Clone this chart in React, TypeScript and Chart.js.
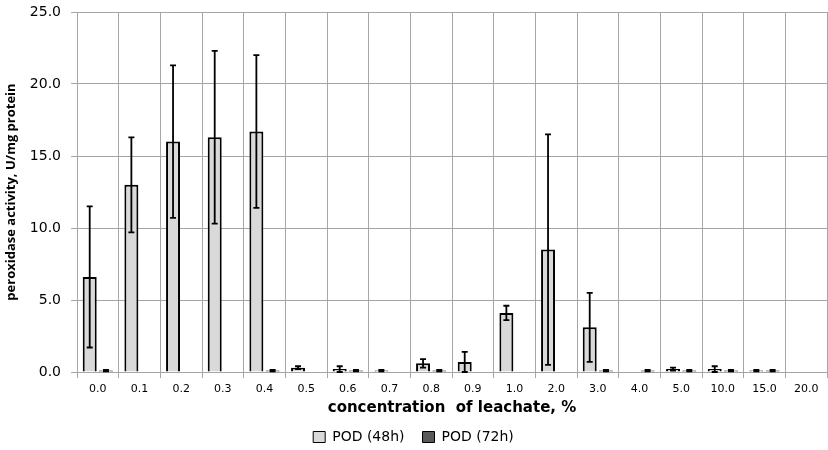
import React, { useEffect, useRef } from "react";
import { Chart, registerables } from "chart.js";

Chart.register(...registerables);

const categories = ["0.0", "0.1", "0.2", "0.3", "0.4", "0.5", "0.6", "0.7", "0.8", "0.9", "1.0", "2.0", "3.0", "4.0", "5.0", "10.0", "15.0", "20.0"];
const pod48 = [6.6, 13.0, 16.0, 16.3, 16.7, 0.3, 0.2, 0.1, 0.6, 0.7, 4.1, 8.5, 3.1, null, 0.2, 0.2, 0.1, null];
const err48 = [4.9, 3.3, 5.3, 6.0, 5.3, 0.1, 0.2, 0.05, 0.3, 0.7, 0.5, 8.0, 2.4, null, 0.1, 0.2, 0.05, null];
const pod72 = [0.1, null, null, null, 0.1, null, 0.1, null, 0.1, null, null, null, 0.1, 0.1, 0.1, 0.1, 0.1, null];
const err72 = [0.05, null, null, null, 0.05, null, 0.05, null, 0.05, null, null, null, 0.05, 0.05, 0.05, 0.05, 0.05, null];
const seriesNames = ["POD (48h)", "POD (72h)"];
const yTicks = [0, 5, 10, 15, 20, 25];

const errorBarPlugin = {
  id: "errorBars",
  afterDatasetsDraw(chart: any) {
    const ctx = chart.ctx;
    const yScale = chart.scales.y;
    chart.data.datasets.forEach((ds: any, di: number) => {
      const meta = chart.getDatasetMeta(di);
      const errs = ds.errors as (number | null)[];
      meta.data.forEach((bar: any, i: number) => {
        const v = ds.data[i];
        const e = errs[i];
        if (v == null || e == null) return;
        const x = bar.x;
        const yTop = yScale.getPixelForValue(v + e);
        const yBot = yScale.getPixelForValue(Math.max(0, v - e));
        ctx.save();
        ctx.strokeStyle = "#000";
        ctx.lineWidth = 1.8;
        ctx.beginPath();
        ctx.moveTo(x, yTop);
        ctx.lineTo(x, yBot);
        ctx.moveTo(x - 3, yTop);
        ctx.lineTo(x + 3, yTop);
        ctx.moveTo(x - 3, yBot);
        ctx.lineTo(x + 3, yBot);
        ctx.stroke();
        ctx.restore();
      });
    });
  },
};

export default function App() {
  const ref = useRef<HTMLCanvasElement>(null);
  useEffect(() => {
    document.body.style.margin = "0";
    const chart = new Chart(ref.current!, {
      type: "bar",
      data: {
        labels: categories,
        datasets: [
          {
            label: seriesNames[0],
            data: pod48 as any,
            errors: err48,
            backgroundColor: "#d9d9d9",
            borderColor: "#000",
            borderWidth: 2,
            categoryPercentage: 0.78,
            barPercentage: 0.86,
          } as any,
          {
            label: seriesNames[1],
            data: pod72 as any,
            errors: err72,
            backgroundColor: "#595959",
            borderColor: "#000",
            borderWidth: 2,
            categoryPercentage: 0.78,
            barPercentage: 0.86,
          } as any,
        ],
      },
      options: {
        responsive: false,
        animation: false,
        layout: { padding: { top: 12, right: 1, left: 0, bottom: -4 } },
        plugins: {
          tooltip: { enabled: false },
          legend: {
            position: "bottom",
            labels: {
              color: "#000",
              font: { family: "'DejaVu Sans', sans-serif", size: 14 },
              boxWidth: 12,
              boxHeight: 11,
              padding: 18,
              generateLabels: (c: any) =>
                c.data.datasets.map((ds: any, i: number) => ({
                  text: ds.label,
                  fillStyle: ds.backgroundColor,
                  strokeStyle: "#000",
                  lineWidth: 1,
                  datasetIndex: i,
                  fontColor: "#000",
                })),
            },
          },
        },
        scales: {
          x: {
            grid: { color: "#a6a6a6", lineWidth: 1, offset: true, tickLength: 6, drawTicks: true },
            border: { color: "#a6a6a6" },
            ticks: { color: "#000", font: { family: "'DejaVu Sans', sans-serif", size: 11 }, maxRotation: 0, autoSkip: false, padding: 5 },
            title: {
              display: true,
              text: "concentration  of leachate, %",
              color: "#000",
              font: { family: "'DejaVu Sans', sans-serif", size: 15, weight: "bold" },
              padding: { top: 2, bottom: -5 },
            },
            afterFit: (s: any) => { s.height = 40; },
          },
          y: {
            min: 0,
            max: 25,
            afterBuildTicks: (s: any) => { s.ticks = yTicks.map((v) => ({ value: v })); },
            grid: { color: "#a6a6a6", lineWidth: 1, tickLength: 6 },
            border: { color: "#a6a6a6" },
            ticks: {
              color: "#000",
              font: { family: "'DejaVu Sans', sans-serif", size: 14 },
              padding: 10,
              callback: (v: any) => Number(v).toFixed(1),
            },
            title: {
              display: true,
              text: "peroxidase activity, U/mg protein",
              color: "#000",
              font: { family: "'Open Sans', sans-serif", size: 13, weight: "bold" },
              padding: { top: 3, bottom: 0 },
            },
            afterFit: (s: any) => { s.width = 77; s.paddingTop = 0; s.paddingBottom = 0; },
          },
        },
      },
      plugins: [errorBarPlugin],
    });
    return () => chart.destroy();
  }, []);
  return (
    <div style={{ width: 828, height: 450 }}>
      <canvas ref={ref} width={828} height={450} />
    </div>
  );
}
